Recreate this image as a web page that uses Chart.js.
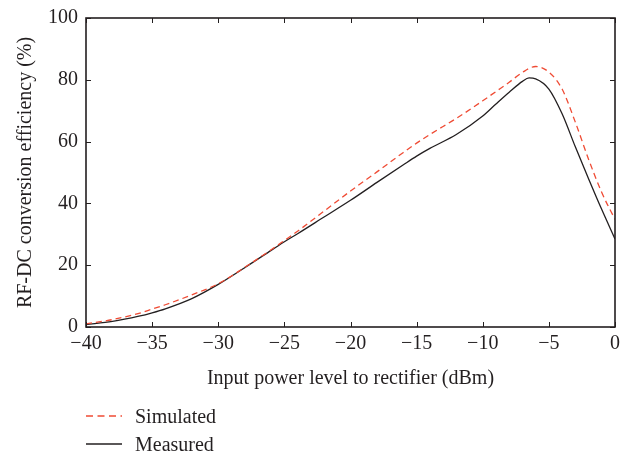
<!DOCTYPE html>
<html>
<head>
<meta charset="utf-8">
<script src="https://cdn.jsdelivr.net/npm/chart.js@4/dist/chart.umd.min.js"></script>
<style>
    html, body { margin: 0; padding: 0; background: #fff; }
    #wrap { position: relative; width: 634px; height: 453px; }
    #legend { position: absolute; left: 86px; top: 402px; font-family: "Liberation Serif", "DejaVu Serif", serif; font-size: 20px; color: #231f20; }
    .item { display: flex; align-items: center; height: 28px; }
    .item svg { margin-right: 13px; }
</style>
</head>
<body>
<div id="wrap">
    <canvas id="chart" width="634" height="453"></canvas>
    <div id="legend"></div>
</div>
<script>
// Input power (dBm) and efficiency (%)
const simPower = [-40, -38, -36, -35, -34, -32, -30, -28, -26, -25, -24, -22, -20, -18, -16, -15, -14, -12, -10, -9, -8, -7, -6, -5, -4, -3, -2, -1, 0];
const simEff = [1.0, 2.4, 4.4, 5.8, 7.2, 10.4, 14.0, 19.3, 25.0, 28.0, 31.0, 37.5, 44.0, 50.2, 56.5, 59.5, 62.3, 67.5, 73.2, 76.2, 79.2, 82.4, 84.3, 82.5, 77.0, 66.3, 54.3, 43.5, 34.8];

const measPower = [-40, -38, -36, -35, -34, -32, -30, -28, -26, -25, -24, -22, -20, -18, -16, -15, -14, -12, -10, -9, -8, -7, -6.5, -6, -5, -4, -3, -2, -1, 0];
const measEff = [0.8, 1.8, 3.5, 4.6, 5.9, 9.2, 13.8, 19.2, 24.8, 27.6, 30.2, 35.6, 41.0, 46.8, 52.5, 55.3, 57.8, 62.3, 68.3, 72.2, 76.0, 79.5, 80.6, 80.3, 77.0, 69.0, 58.3, 48.0, 38.0, 28.5];

const xTicks = [-40, -35, -30, -25, -20, -15, -10, -5, 0];
const yTicks = [0, 20, 40, 60, 80, 100];

const seriesNames = ['Simulated', 'Measured'];
const seriesColors = ['#ef4b34', '#231f20'];

const FONT = '"Liberation Serif", "DejaVu Serif", serif';
const AXIS = '#231f20';

// frame around the plot plus inward tick marks on all four sides
const framePlugin = {
    id: 'frame',
    afterDraw(chart) {
        const ctx = chart.ctx;
        const a = chart.chartArea;
        const xs = chart.scales.x;
        const ys = chart.scales.y;
        const len = 5;
        ctx.save();
        ctx.strokeStyle = AXIS;
        ctx.lineWidth = 1;
        ctx.beginPath();
        xs.ticks.forEach((t, i) => {
            const px = Math.round(xs.getPixelForTick(i)) + 0.5;
            ctx.moveTo(px, a.bottom); ctx.lineTo(px, a.bottom - len);
            ctx.moveTo(px, a.top); ctx.lineTo(px, a.top + len);
        });
        ys.ticks.forEach((t, i) => {
            const py = Math.round(ys.getPixelForTick(i)) + 0.5;
            ctx.moveTo(a.left, py); ctx.lineTo(a.left + len, py);
            ctx.moveTo(a.right, py); ctx.lineTo(a.right - len, py);
        });
        ctx.stroke();
        ctx.lineWidth = 1.6;
        ctx.strokeRect(a.left, a.top, a.right - a.left, a.bottom - a.top);
        ctx.restore();
    }
};

const minus = v => String(v).replace('-', '\u2212');

const ctx = document.getElementById('chart').getContext('2d');
const chart = new Chart(ctx, {
    type: 'line',
    data: {
        datasets: [{
            label: seriesNames[0],
            data: simPower.map((p, i) => ({ x: p, y: simEff[i] })),
            borderColor: seriesColors[0],
            borderWidth: 1.3,
            borderDash: [6, 4],
            pointRadius: 0,
            fill: false,
            cubicInterpolationMode: 'monotone'
        }, {
            label: seriesNames[1],
            data: measPower.map((p, i) => ({ x: p, y: measEff[i] })),
            borderColor: seriesColors[1],
            borderWidth: 1.3,
            pointRadius: 0,
            fill: false,
            cubicInterpolationMode: 'monotone'
        }]
    },
    options: {
        responsive: false,
        animation: false,
        layout: { padding: { top: 17, right: 19, bottom: 58, left: 0 } },
        plugins: {
            legend: { display: false },
            tooltip: { enabled: false }
        },
        scales: {
            x: {
                type: 'linear',
                min: -40,
                max: 0,
                afterBuildTicks: s => { s.ticks = xTicks.map(v => ({ value: v })); },
                afterFit: s => { s.height = 68; },
                grid: { display: false, drawTicks: false },
                border: { display: false },
                ticks: {
                    padding: 5,
                    color: AXIS,
                    font: { family: FONT, size: 20 },
                    callback: v => minus(v)
                },
                title: {
                    display: true,
                    text: 'Input power level to rectifier (dBm)',
                    color: AXIS,
                    font: { family: FONT, size: 20 },
                    padding: { top: 0, bottom: 4 }
                }
            },
            y: {
                type: 'linear',
                min: 0,
                max: 100,
                afterBuildTicks: s => { s.ticks = yTicks.map(v => ({ value: v })); },
                afterFit: s => { s.width = 86; },
                grid: { display: false, drawTicks: false },
                border: { display: false },
                ticks: {
                    padding: 8,
                    color: AXIS,
                    font: { family: FONT, size: 20, lineHeight: 1 }
                },
                title: {
                    display: true,
                    text: 'RF-DC conversion efficiency (%)',
                    color: AXIS,
                    font: { family: FONT, size: 20 },
                    padding: { top: 14, bottom: 0 }
                }
            }
        }
    },
    plugins: [framePlugin]
});

// legend stacked below the plot, as in the figure
const legend = document.getElementById('legend');
seriesNames.forEach((name, i) => {
    const dash = i === 0 ? 'stroke-dasharray="7 4.5"' : '';
    legend.insertAdjacentHTML('beforeend',
        '<div class="item"><svg width="36" height="4"><line x1="0" y1="2" x2="36" y2="2" stroke="' +
        seriesColors[i] + '" stroke-width="1.3" ' + dash + '/></svg><span>' + name + '</span></div>');
});
</script>
</body>
</html>
